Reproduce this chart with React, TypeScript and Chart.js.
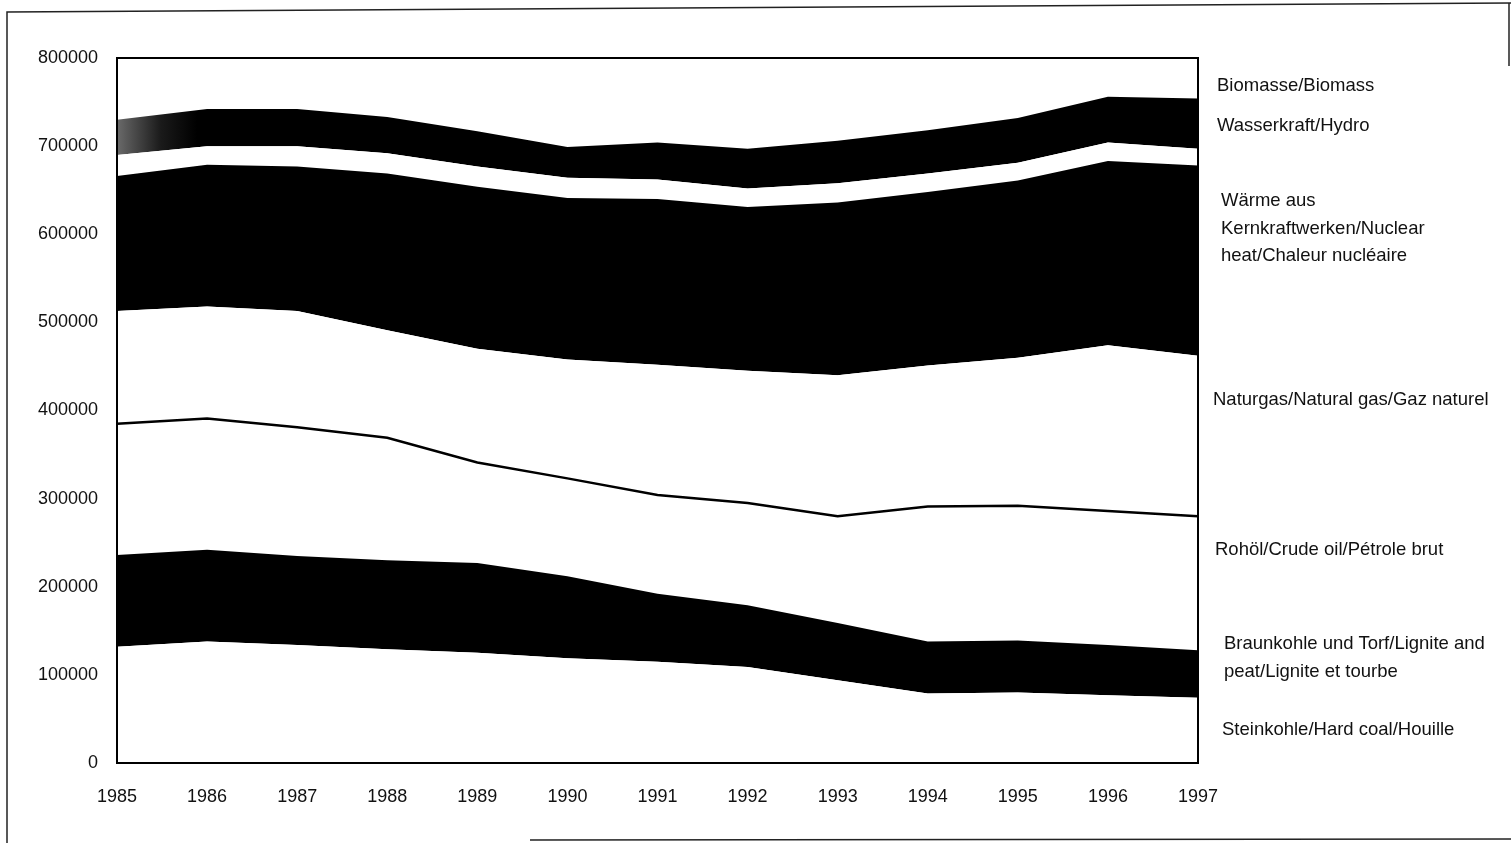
import React, { useEffect, useRef } from 'react';
import { Chart, registerables } from 'chart.js';

Chart.register(...registerables);

const years = ['1985', '1986', '1987', '1988', '1989', '1990', '1991', '1992', '1993', '1994', '1995', '1996', '1997'];

const hardCoal = [132000, 138000, 134000, 129000, 125000, 119000, 115000, 109000, 94000, 79000, 80000, 77000, 74000];
const lignite = [104000, 104000, 101000, 101000, 102000, 93000, 77000, 70000, 65000, 59000, 59000, 57000, 54000];
const crudeOil = [149000, 149000, 146000, 139000, 114000, 111000, 112000, 116000, 121000, 153000, 153000, 152000, 152000];
const naturalGas = [128000, 127000, 132000, 122000, 129000, 135000, 148000, 150000, 160000, 160000, 168000, 188000, 182000];
const nuclear = [153000, 161000, 164000, 178000, 184000, 183000, 188000, 186000, 196000, 197000, 201000, 209000, 216000];
const hydro = [24000, 21000, 23000, 23000, 23000, 23000, 22000, 21000, 22000, 21000, 20000, 21000, 19000];
const biomass = [40000, 42000, 42000, 41000, 40000, 35000, 42000, 45000, 48000, 49000, 51000, 52000, 57000];

const yTicks = [0, 100000, 200000, 300000, 400000, 500000, 600000, 700000, 800000];

const seriesNames = [
  'Steinkohle/Hard coal/Houille',
  'Braunkohle und Torf/Lignite and peat/Lignite et tourbe',
  'Rohöl/Crude oil/Pétrole brut',
  'Naturgas/Natural gas/Gaz naturel',
  'Wärme aus Kernkraftwerken/Nuclear heat/Chaleur nucléaire',
  'Wasserkraft/Hydro',
  'Biomasse/Biomass',
];

const labelBlocks: { lines: string[]; left: number; top: number; lh: number }[] = [
  { lines: ['Biomasse/Biomass'], left: 1217, top: 71, lh: 27 },
  { lines: ['Wasserkraft/Hydro'], left: 1217, top: 111, lh: 27 },
  { lines: ['Wärme aus', 'Kernkraftwerken/Nuclear', 'heat/Chaleur nucléaire'], left: 1221, top: 186, lh: 27.5 },
  { lines: ['Naturgas/Natural gas/Gaz naturel'], left: 1213, top: 385, lh: 27 },
  { lines: ['Rohöl/Crude oil/Pétrole brut'], left: 1215, top: 535, lh: 27 },
  { lines: ['Braunkohle und Torf/Lignite and', 'peat/Lignite et tourbe'], left: 1224, top: 629, lh: 28 },
  { lines: ['Steinkohle/Hard coal/Houille'], left: 1222, top: 715, lh: 27 },
];

const FONT = "'Liberation Sans', Arial, Helvetica, sans-serif";

export default function App() {
  const ref = useRef<HTMLCanvasElement>(null);

  useEffect(() => {
    if (!ref.current) return;

    const framePlugin = {
      id: 'frames',
      beforeDraw(chart: any) {
        const c = chart.ctx;
        c.save();
        c.strokeStyle = '#222';
        c.lineWidth = 1.5;
        c.beginPath();
        c.moveTo(7, 843);
        c.lineTo(7, 12);
        c.lineTo(1511, 3);
        c.stroke();
        c.beginPath();
        c.moveTo(1509, 3);
        c.lineTo(1509, 66);
        c.stroke();
        c.beginPath();
        c.moveTo(530, 840);
        c.lineTo(1511, 839);
        c.stroke();
        c.restore();
      },
      afterDatasetsDraw(chart: any) {
        const { left, top, right, bottom } = chart.chartArea;
        const c = chart.ctx;
        c.save();
        c.strokeStyle = '#000';
        c.lineWidth = 2;
        c.strokeRect(left, top, right - left, bottom - top);
        c.restore();
      },
    };

    const biomassFill = (ctx: any) => {
      const chart = ctx.chart;
      const area = chart.chartArea;
      if (!area) return '#000';
      const g = chart.ctx.createLinearGradient(area.left, 0, area.left + 80, 0);
      g.addColorStop(0, '#6a6a6a');
      g.addColorStop(0.55, '#1a1a1a');
      g.addColorStop(1, '#000');
      return g;
    };

    const values = [hardCoal, lignite, crudeOil, naturalGas, nuclear, hydro, biomass];
    const fills: any[] = ['#fff', '#000', '#fff', '#fff', '#000', '#fff', biomassFill];

    const chart = new Chart(ref.current, {
      type: 'line',
      data: {
        labels: years,
        datasets: values.map((v, i) => ({
          label: seriesNames[i],
          data: v,
          fill: i === 0 ? 'origin' : '-1',
          backgroundColor: fills[i],
          borderColor: i === 2 ? '#000' : 'rgba(0,0,0,0)',
          borderWidth: i === 2 ? 2.5 : 0,
          pointRadius: 0,
          tension: 0,
        })),
      },
      options: {
        animation: false,
        responsive: false,
        maintainAspectRatio: false,
        layout: { padding: { top: 58, right: 313, left: 0, bottom: 0 } },
        plugins: {
          legend: { display: false },
          tooltip: { enabled: false },
        },
        scales: {
          x: {
            type: 'category',
            grid: { display: false, drawTicks: false },
            border: { display: false },
            ticks: {
              autoSkip: false,
              maxRotation: 0,
              padding: 23,
              color: '#111',
              font: { family: FONT, size: 18 },
            },
            afterFit: (scale: any) => {
              scale.height = 80;
            },
          },
          y: {
            stacked: true,
            min: 0,
            max: 800000,
            grid: { display: false, drawTicks: false },
            border: { display: false },
            afterBuildTicks: (scale: any) => {
              scale.ticks = yTicks.map((v) => ({ value: v }));
            },
            ticks: {
              padding: 19,
              color: '#111',
              font: { family: FONT, size: 18 },
              callback: (v: any) => String(v),
            },
            afterFit: (scale: any) => {
              scale.width = 117;
            },
          },
        },
      },
      plugins: [framePlugin],
    });

    return () => chart.destroy();
  }, []);

  return (
    <div style={{ position: 'absolute', left: 0, top: 0, width: 1511, height: 843, background: '#fff', overflow: 'hidden' }}>
      <canvas ref={ref} width={1511} height={843} style={{ position: 'absolute', left: 0, top: 0, width: 1511, height: 843 }} />
      {labelBlocks.map((b, i) => (
        <div
          key={i}
          style={{
            position: 'absolute',
            left: b.left,
            top: b.top,
            fontFamily: FONT,
            fontSize: 18.5,
            lineHeight: `${b.lh}px`,
            color: '#111',
            whiteSpace: 'nowrap',
          }}
        >
          {b.lines.map((l, j) => (
            <div key={j}>{l}</div>
          ))}
        </div>
      ))}
    </div>
  );
}
